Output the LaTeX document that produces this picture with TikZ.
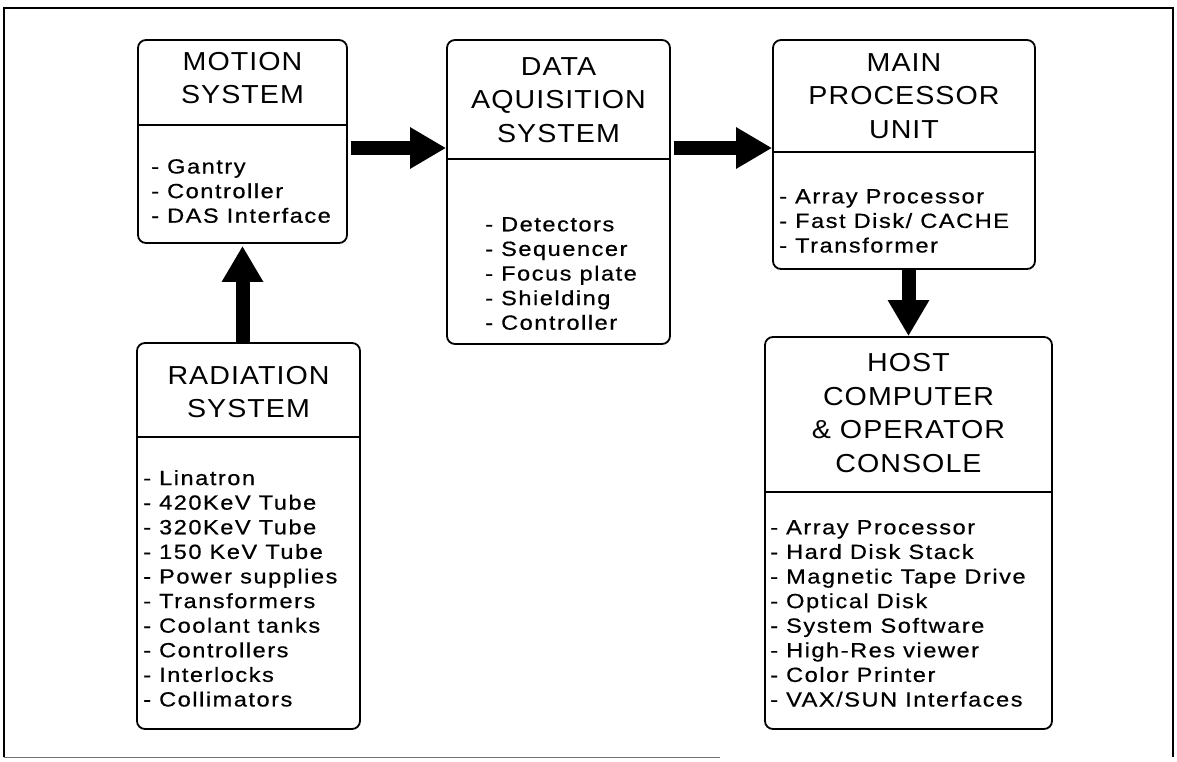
\documentclass[tikz,border=0pt]{standalone}
\usepackage{fontspec}
\setmainfont{Liberation Sans}
\newfontfamily\headfont[FakeStretch=1.1,LetterSpace=4]{Liberation Sans}
\newfontfamily\listfont[FakeStretch=1.15,LetterSpace=7.5,FakeBold=0.6]{Liberation Sans}
\usetikzlibrary{arrows.meta}

\begin{document}
\begin{tikzpicture}[
  x=1pt, y=-1pt,
  unit/.style={draw, line width=1.8pt, rounded corners=8pt, inner sep=0pt},
  head/.style={align=center, inner sep=0pt, font=\headfont\fontsize{26}{33.5}\selectfont},
  items/.style={align=left, anchor=north west, inner sep=0pt, font=\listfont\fontsize{20.5}{24.6}\selectfont},
  split/.style={line width=2.6pt},
  flow/.style={line width=14pt, -{Triangle[length=36pt,width=39pt]}},
  frame/.style={line width=1.6pt},
]
\useasboundingbox (0,0) rectangle (1177,761);
\draw[frame] (4,757) -- (4,8) -- (1173,8) -- (1173,757);
\draw[line width=0.6pt, black!55] (4,757) -- (720,757);

\node[unit, minimum width=209pt, minimum height=203pt] (motion) at (242.5,141.5) {};
\node[unit, minimum width=223pt, minimum height=304pt] (das) at (558.5,192) {};
\node[unit, minimum width=262pt, minimum height=229pt] (main) at (904,154.5) {};
\node[unit, minimum width=223pt, minimum height=386pt] (rad) at (248.5,536) {};
\node[unit, minimum width=287pt, minimum height=392pt] (host) at (908.5,533) {};

\draw[split] (motion.west |- 0,125) -- (motion.east |- 0,125);
\draw[split] (das.west |- 0,159) -- (das.east |- 0,159);
\draw[split] (main.west |- 0,152) -- (main.east |- 0,152);
\draw[split] (rad.west |- 0,437) -- (rad.east |- 0,437);
\draw[split] (host.west |- 0,492) -- (host.east |- 0,492);

\node[head] (motiont) at (242.5,78) {MOTION\\SYSTEM};
\node[head] (dast) at (558.5,100) {DATA\\AQUISITION\\SYSTEM};
\node[head] (maint) at (904,96) {MAIN\\PROCESSOR\\UNIT};
\node[head] (radt) at (248.5,392) {RADIATION\\SYSTEM};
\node[head] (hostt) at (908.5,413) {HOST\\COMPUTER\\\& OPERATOR\\CONSOLE};

\node[items] (motionl) at (151,159) {- Gantry\\- Controller\\- DAS Interface};
\node[items] (dasl) at (485,217) {- Detectors\\- Sequencer\\- Focus plate\\- Shielding\\- Controller};
\node[items] (mainl) at (779,189) {- Array Processor\\- Fast Disk/ CACHE\\- Transformer};
\node[items] (radl) at (143,470) {- Linatron\\- 420KeV Tube\\- 320KeV Tube\\- 150 KeV Tube\\- Power supplies\\- Transformers\\- Coolant tanks\\- Controllers\\- Interlocks\\- Collimators};
\node[items] (hostl) at (770,520) {- Array Processor\\- Hard Disk Stack\\- Magnetic Tape Drive\\- Optical Disk\\- System Software\\- High-Res viewer\\- Color Printer\\- VAX/SUN Interfaces};

\draw[flow, shorten <=3pt] (motion.east |- 0,148) -- (das.west |- 0,148);
\draw[flow, shorten <=3pt] (das.east |- 0,148) -- (main.west |- 0,148);
\draw[flow] (main.south -| host.north) -- (host.north);
\draw[flow, shorten >=2pt] (rad.north -| motion.south) -- (motion.south);
\end{tikzpicture}
\end{document}
